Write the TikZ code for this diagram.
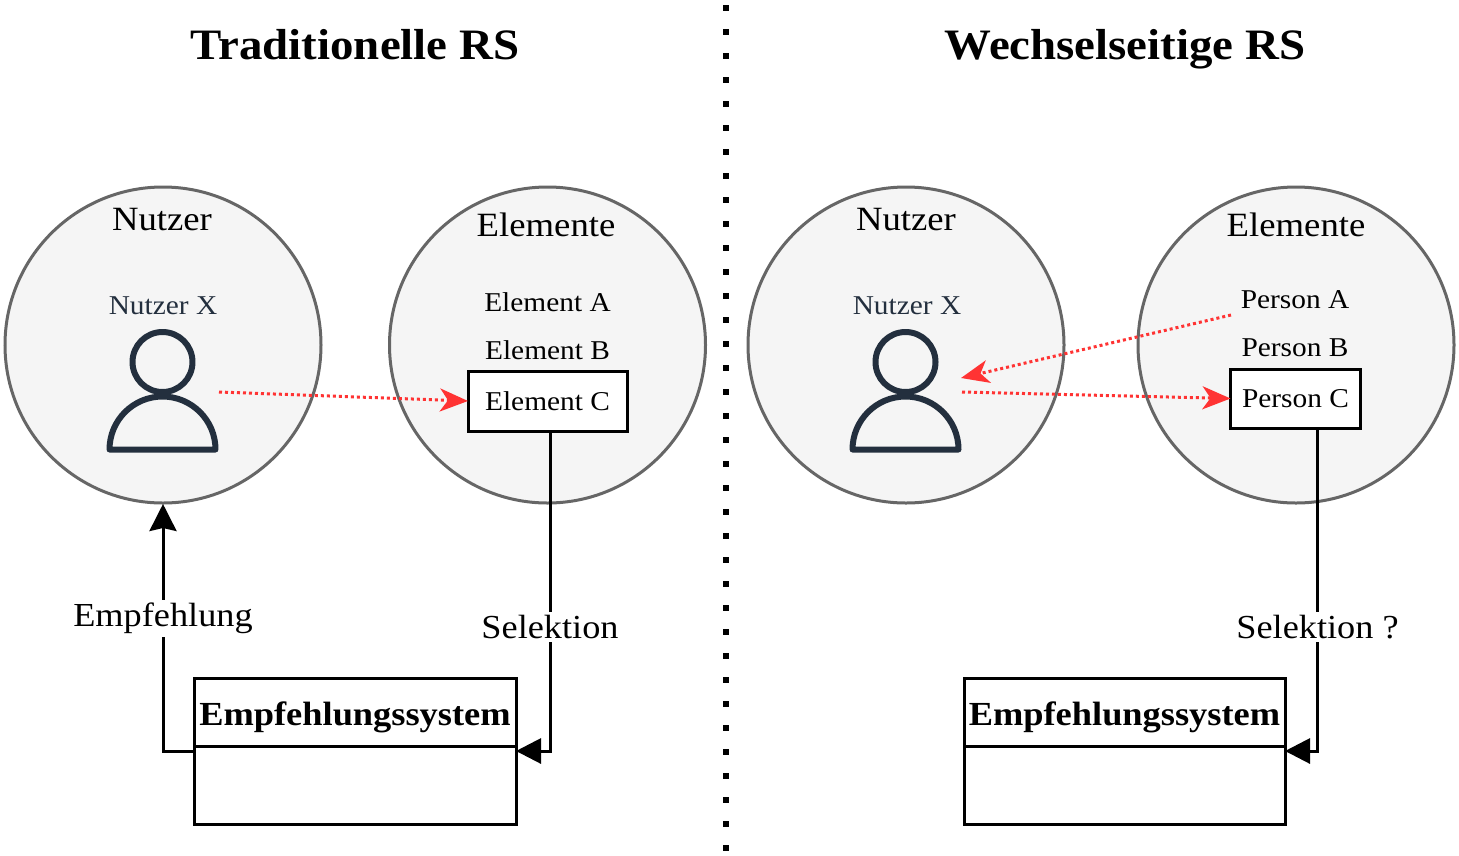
\documentclass[tikz,border=0pt]{standalone}
\usepackage{fontspec}
\setmainfont[FakeStretch=1.08]{Liberation Serif}
\usetikzlibrary{arrows.meta,positioning}

\definecolor{iconblue}{HTML}{232F3E}
\definecolor{bubblefill}{HTML}{F5F5F5}
\definecolor{bubbledraw}{HTML}{666666}
\definecolor{hintred}{HTML}{FF3333}

\tikzset{
  personicon/.pic={
    \draw[iconblue,line width=6pt,line join=round]
      (0,17) circle (30pt)
      (-53,104.5) arc (180:0:53pt) -- cycle;
  }
}

\begin{document}
\begin{tikzpicture}[x=1pt,y=-1pt,line width=3pt,font=\fontsize{27.2}{32}\selectfont]
  \tikzstyle{heading}=[font=\fontsize{43.4}{48}\selectfont\bfseries,inner sep=0pt,text depth=0pt]
  \tikzstyle{bubble}=[circle,draw=bubbledraw,fill=bubblefill,minimum size=316pt,inner sep=0pt,outer sep=0pt]
  \tikzstyle{bubbletext}=[font=\fontsize{34}{38}\selectfont,inner sep=0pt]
  \tikzstyle{entry}=[inner sep=0pt]
  \tikzstyle{picked}=[draw=black,fill=white,inner sep=0pt,outer sep=0pt]
  \tikzstyle{syshead}=[draw=black,fill=white,inner sep=0pt,outer sep=0pt,minimum height=68pt,text height=27pt,text depth=0pt,font=\fontsize{33.7}{38}\selectfont\bfseries]
  \tikzstyle{sysbody}=[draw=black,fill=white,inner sep=0pt,outer sep=0pt,minimum height=78pt]
  \tikzstyle{onwire}=[fill=white,inner sep=3pt,font=\fontsize{33.6}{38}\selectfont]
  \tikzstyle{wire}=[draw=black,-{Triangle[length=25pt,width=25pt]}]
  \tikzstyle{backwire}=[draw=black,-{Stealth[length=27pt,width=27pt,inset=3pt]}]
  \tikzstyle{hint}=[draw=hintred,dash pattern=on 3pt off 3pt,-{Stealth[length=28pt,width=23pt,inset=8pt]}]

  \useasboundingbox (0,0) rectangle (1459,855);

  \coordinate (SepTop) at (726,5);
  \coordinate (SepEnd) at (726,855);
  \draw[line width=6pt,dash pattern=on 6pt off 18pt] (SepTop) -- (SepEnd);

  \node[heading] (TitleL) at (355,44.5) {Traditionelle RS};
  \node[heading] (TitleR) at (1125,44.5) {Wechselseitige RS};

  % left side
  \node[bubble] (UsersL) at (163,345) {};
  \node[bubble] (ItemsL) at (547.5,345) {};
  \node[bubbletext] (UsersLName) at (162,219.5) {Nutzer};
  \node[bubbletext] (ItemsLName) at (546,225) {Elemente};
  \node[entry,text=iconblue] (UserLX) at (163,306) {Nutzer X};
  \pic at (162.5,345) {personicon};
  \node[entry] (ElemA) at (547.5,302) {Element A};
  \node[entry] (ElemB) at (547.5,350) {Element B};
  \node[picked,minimum width=159pt,minimum height=60pt] (ElemC) at (547.5,401) {Element C};
  \node[syshead,minimum width=322pt] (HeadL) at (355,712) {Empfehlungssystem};
  \node[sysbody,minimum width=322pt] (BodyL) [below=0pt of HeadL] {};

  \coordinate (GazeL) at (219,392);
  \coordinate (TipL) at (163,504);
  \draw[hint] (GazeL) -- (ElemC.west);
  \draw[wire] ([xshift=2.5pt]ElemC.south) |- ([yshift=-5pt]BodyL.north east)
    node[onwire,pos=0.306] (PickL) {Selektion};
  \draw[backwire] ([yshift=-5pt]BodyL.north west) -| (TipL)
    node[onwire,pos=0.769] (RecoL) {Empfehlung};

  % right side
  \node[bubble] (UsersR) at (906,345) {};
  \node[bubble] (ItemsR) at (1296,345) {};
  \node[bubbletext] (UsersRName) at (906,219.5) {Nutzer};
  \node[bubbletext] (ItemsRName) at (1296,225) {Elemente};
  \node[entry,text=iconblue] (UserRX) at (907,306) {Nutzer X};
  \pic at (905.5,345) {personicon};
  \node[entry] (PersA) at (1295,300) {Person A};
  \node[entry] (PersB) at (1295,348) {Person B};
  \node[picked,minimum width=130pt,minimum height=59pt] (PersC) at (1295.5,398.5) {Person C};
  \node[syshead,minimum width=321pt] (HeadR) at (1124.5,712) {Empfehlungssystem};
  \node[sysbody,minimum width=321pt] (BodyR) [below=0pt of HeadR] {};

  \coordinate (GazeR) at (962,392);
  \coordinate (BackFrom) at (1231,315);
  \coordinate (BackTo) at (961,378);
  \draw[hint] (GazeR) -- (PersC.west);
  \draw[hint] (BackFrom) -- (BackTo);
  \draw[wire] ([xshift=22pt]PersC.south) |- ([yshift=-5pt]BodyR.north east)
    node[onwire,pos=0.308] (PickR) {Selektion ?};
\end{tikzpicture}
\end{document}
